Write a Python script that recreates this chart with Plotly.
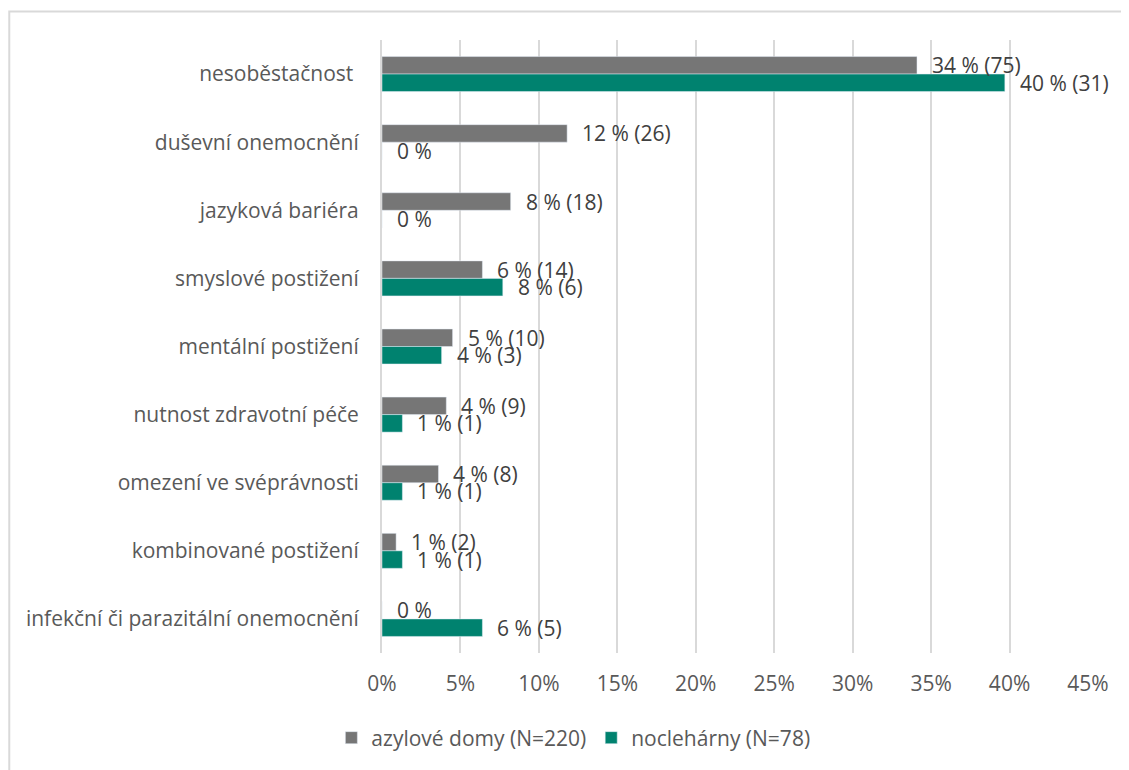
import plotly.graph_objects as go

categories = [
    "nesoběstačnost\u00a0",
    "duševní onemocnění",
    "jazyková bariéra",
    "smyslové postižení",
    "mentální postižení",
    "nutnost zdravotní péče",
    "omezení ve svéprávnosti",
    "kombinované postižení",
    "infekční či parazitální onemocnění",
]
azyl_values = [34.1, 11.8, 8.2, 6.4, 4.5, 4.1, 3.6, 0.9, 0.0]
nocl_values = [39.7, 0.0, 0.0, 7.7, 3.8, 1.3, 1.3, 1.3, 6.4]
azyl_labels = ["34 % (75)", "12 % (26)", "8 % (18)", "6 % (14)", "5 % (10)", "4 % (9)", "4 % (8)", "1 % (2)", "0 %"]
nocl_labels = ["40 % (31)", "0 %", "0 %", "8 % (6)", "4 % (3)", "1 % (1)", "1 % (1)", "1 % (1)", "6 % (5)"]
series_names = ["azylové domy (N=220)", "noclehárny (N=78)"]
x_ticks = [0, 5, 10, 15, 20, 25, 30, 35, 40, 45]
x_tick_labels = ["0%", "5%", "10%", "15%", "20%", "25%", "30%", "35%", "40%", "45%"]

GRAY = "#767676"
TEAL = "#00826F"
TXT = "#595959"
FONT = "Open Sans"
FS = 21

OX, OY = 8, 8  # page body margin
W, H = 1129 - OX, 770 - OY
# target pixel positions in the page
PL, PR, PT, PB = 381.5, 1088, 40, 653
ML = PL - OX
MR = W - (PR - OX)
MT = PT - OY
MB = H - (PB - OY)
PW = PR - PL
PH = PB - PT

fig = go.Figure()
fig.add_trace(go.Bar(y=categories, x=azyl_values, orientation="h", name=series_names[0],
                     marker=dict(color=GRAY)))
fig.add_trace(go.Bar(y=categories, x=nocl_values, orientation="h", name=series_names[1],
                     marker=dict(color=TEAL)))

BAR_PX = 17.5
annotations = []
for cat, v, lab in zip(categories, azyl_values, azyl_labels):
    annotations.append(dict(x=v, y=cat, text=lab, xanchor="left", yanchor="middle",
                            xshift=13, yshift=BAR_PX / 2, showarrow=False,
                            font=dict(family=FONT, size=FS, color="#404040")))
for cat, v, lab in zip(categories, nocl_values, nocl_labels):
    annotations.append(dict(x=v, y=cat, text=lab, xanchor="left", yanchor="middle",
                            xshift=13, yshift=-BAR_PX / 2, showarrow=False,
                            font=dict(family=FONT, size=FS, color="#404040")))

def px_to_paper_x(px):
    return (px - PL) / PW

def px_to_paper_y(py):
    return (PB - py) / PH

bx = px_to_paper_x(8.5)
by = px_to_paper_y(11.5)
shapes = [dict(type="path", xref="paper", yref="paper",
               path=f"M {bx},{px_to_paper_y(790)} L {bx},{by} L {px_to_paper_x(1150)},{by}",
               line=dict(color="#d9d9d9", width=2))]

fig.update_layout(
    width=W, height=H,
    margin=dict(l=ML, r=MR, t=MT, b=MB, pad=0, autoexpand=False),
    paper_bgcolor="white", plot_bgcolor="white",
    barmode="group", bargap=0.486, bargroupgap=0,
    font=dict(family=FONT, size=FS, color=TXT),
    showlegend=True,
    legend=dict(orientation="h", x=px_to_paper_x(573), xanchor="center",
                y=px_to_paper_y(738), yanchor="middle",
                font=dict(family=FONT, size=FS, color=TXT),
                tracegroupgap=0),
    annotations=annotations,
    shapes=shapes,
)
fig.update_xaxes(range=[0, 45], tickvals=x_ticks, ticktext=x_tick_labels,
                 showgrid=True, gridcolor="#d9d9d9", gridwidth=1.5,
                 zeroline=False, showline=False, ticks="", ticklabelstandoff=16,
                 automargin=False,
                 tickfont=dict(family=FONT, size=FS, color=TXT), fixedrange=True)
fig.update_yaxes(autorange="reversed", showline=True, linecolor="#d9d9d9", linewidth=2,
                 ticks="", ticklabelstandoff=17, showgrid=False, automargin=False,
                 tickfont=dict(family=FONT, size=FS, color=TXT))

fig.write_html("out.html")
